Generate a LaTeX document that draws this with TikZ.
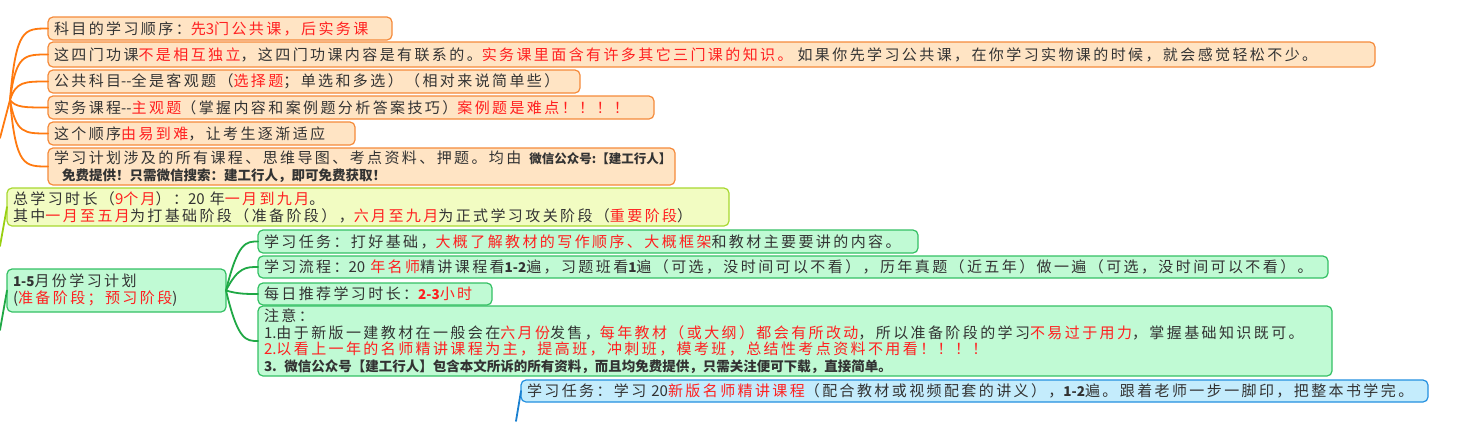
\documentclass[tikz,border=0pt]{standalone}
\usepackage{fontspec}
\usetikzlibrary{calc}
\newfontfamily\cn{Noto Sans CJK SC}[LetterSpace=16]
\newfontfamily\cnb{Noto Sans CJK SC}
\definecolor{tblack}{HTML}{333333}
\definecolor{tred}{HTML}{FF2020}
\definecolor{ofill}{HTML}{FFE4C4}
\definecolor{odraw}{HTML}{F58A3A}
\definecolor{oline}{HTML}{FF7A10}
\definecolor{lfill}{HTML}{F2FCC2}
\definecolor{ldraw}{HTML}{A8D830}
\definecolor{lline}{HTML}{98D010}
\definecolor{gfill}{HTML}{C0FAD4}
\definecolor{gdraw}{HTML}{34C064}
\definecolor{gline}{HTML}{1FA845}
\definecolor{bfill}{HTML}{C4ECFC}
\definecolor{bdraw}{HTML}{2390E0}
\definecolor{bline}{HTML}{1A80D0}
\newcommand\rd[1]{\textcolor{tred}{#1}}
\newcommand\bd[1]{{\cnb\bfseries\fontsize{13.5}{17}\selectfont #1}}
\newcommand\bds[1]{{\cnb\bfseries\fontsize{12.5}{17}\selectfont #1}}
\newcommand\nn[1]{{\cnb\fontsize{15}{17}\selectfont #1}}
\tikzset{
  mbox/.style={rounded corners=5pt, line width=1.2pt, anchor=north west,
    inner xsep=6pt, inner ysep=0pt, outer sep=0pt, align=left, text=tblack,
    font=\cn\fontsize{15}{17}\selectfont},
  obox/.style={mbox, draw=odraw, fill=ofill},
  lbox/.style={mbox, draw=ldraw, fill=lfill},
  gbox/.style={mbox, draw=gdraw, fill=gfill},
  bbox/.style={mbox, draw=bdraw, fill=bfill},
  conn/.style={line width=1.8pt, line cap=round},
}
\begin{document}
\begin{tikzpicture}[x=1pt,y=-1pt]
\useasboundingbox (0,0) rectangle (1457,421);
% orange branch
\node[obox, text width=332pt, minimum height=23pt] (o1) at (48,17)
  {科目的学习顺序：\rd{先\nn{3}门公共课，后实务课}};
\node[obox, text width=1315pt, minimum height=25pt] (o2) at (48,42)
  {这四门功课\rd{不是相互独立}，这四门功课内容是有联系的。\rd{实务课里面含有许多其它三门课的知识。} 如果你先学习公共课，在你学习实物课的时候，就会感觉轻松不少。};
\node[obox, text width=520pt, minimum height=23pt] (o3) at (48,70)
  {公共科目\nn{--}全是客观题（\rd{选择题}；单选和多选）（相对来说简单些）};
\node[obox, text width=594pt, minimum height=23pt] (o4) at (48,96)
  {实务课程\nn{--}\rd{主观题}（掌握内容和案例题分析答案技巧）\rd{案例题是难点！！！！}};
\node[obox, text width=295pt, minimum height=23pt] (o5) at (48,122)
  {这个顺序\rd{由易到难}，让考生逐渐适应};
\node[obox, text width=615pt, minimum height=37pt] (o6) at (48,148)
  {\mbox{学习计划涉及的所有课程、思维导图、考点资料、押题。均由\kern8pt\bds{微信公众号:【建工行人】}}\\
   \mbox{\kern8pt\bd{免费提供！只需微信搜索：建工行人，即可免费获取！}}};
\coordinate (otrunk) at (0,138);
\coordinate (oroot) at (10,100);
\coordinate (oc1) at (16,0);
\coordinate (oc2) at (24,0);
\draw[conn, oline] (otrunk) -- (oroot);
\foreach \n in {o1,o2,o3,o4,o5,o6}
  \draw[conn, oline] (oroot) .. controls (oc1 |- \n.west) and (oc2 |- \n.west) .. (\n.west);
% lime
\node[lbox, text width=710pt, minimum height=38pt] (lime) at (7,188)
  {总学习时长（\rd{\nn{9}个月}）：\nn{20} 年\rd{一月到九月}。\\
   其中\rd{一月至五月}为打基础阶段（准备阶段），\rd{六月至九月}为正式学习攻关阶段（\rd{重要阶段}）};
\coordinate (ltrunk) at (0,246);
\draw[conn, lline] (ltrunk) -- (lime.west);
% green
\node[gbox, text width=207pt, minimum height=43pt] (gp) at (7,269)
  {\bd{1-5}月份学习计划\\\nn{(}\rd{准备阶段；预习阶段}\nn{)}};
\coordinate (gtrunk) at (0,330);
\draw[conn, gline] (gtrunk) -- (gp.west);
\node[gbox, text width=648pt, minimum height=23pt] (g1) at (258,230)
  {学习任务：打好基础，\rd{大概了解教材的写作顺序、大概框架}和教材主要要讲的内容。};
\node[gbox, text width=1058pt, minimum height=22pt] (g2) at (258,256)
  {学习流程：\nn{20} \rd{年名师}精讲课程看\bd{1-2}遍，习题班看\bd{1}遍（可选，没时间可以不看），历年真题（近五年）做一遍（可选，没时间可以不看）。};
\node[gbox, text width=222pt, minimum height=22pt] (g3) at (258,283)
  {每日推荐学习时长：\rd{\bd{2-3}小时}};
\node[gbox, text width=1062pt, minimum height=70pt, font=\cn\fontsize{15}{16.5}\selectfont] (g4) at (258,306)
  {注意：\\
   \nn{1.}由于新版一建教材在一般会在\rd{六月份}发售，\rd{每年教材（或大纲）都会有所改动}，所以准备阶段的学习\rd{不易过于用力}，掌握基础知识既可。\\
   \rd{\nn{2.}以看上一年的名师精讲课程为主，提高班，冲刺班，模考班，总结性考点资料不用看！！！！}\\
   \bd{3. 微信公众号【建工行人】包含本文所诉的所有资料，而且均免费提供，只需关注便可下载，直接简单。}};
\coordinate (gc1) at (238,0);
\coordinate (gc2) at (246,0);
\foreach \n in {g1,g2,g3,g4}
  \draw[conn, gline] (gp.east) .. controls (gc1 |- \n.west) and (gc2 |- \n.west) .. (\n.west);
% blue
\node[bbox, text width=895pt, minimum height=22pt] (blue) at (521,380)
  {学习任务：学习 \nn{20}\rd{新版名师精讲课程}（配合教材或视频配套的讲义），\bd{1-2}遍。跟着老师一步一脚印，把整本书学完。};
\coordinate (btrunk) at (516,421);
\draw[conn, bline] (btrunk) -- (blue.west);
\end{tikzpicture}
\end{document}
